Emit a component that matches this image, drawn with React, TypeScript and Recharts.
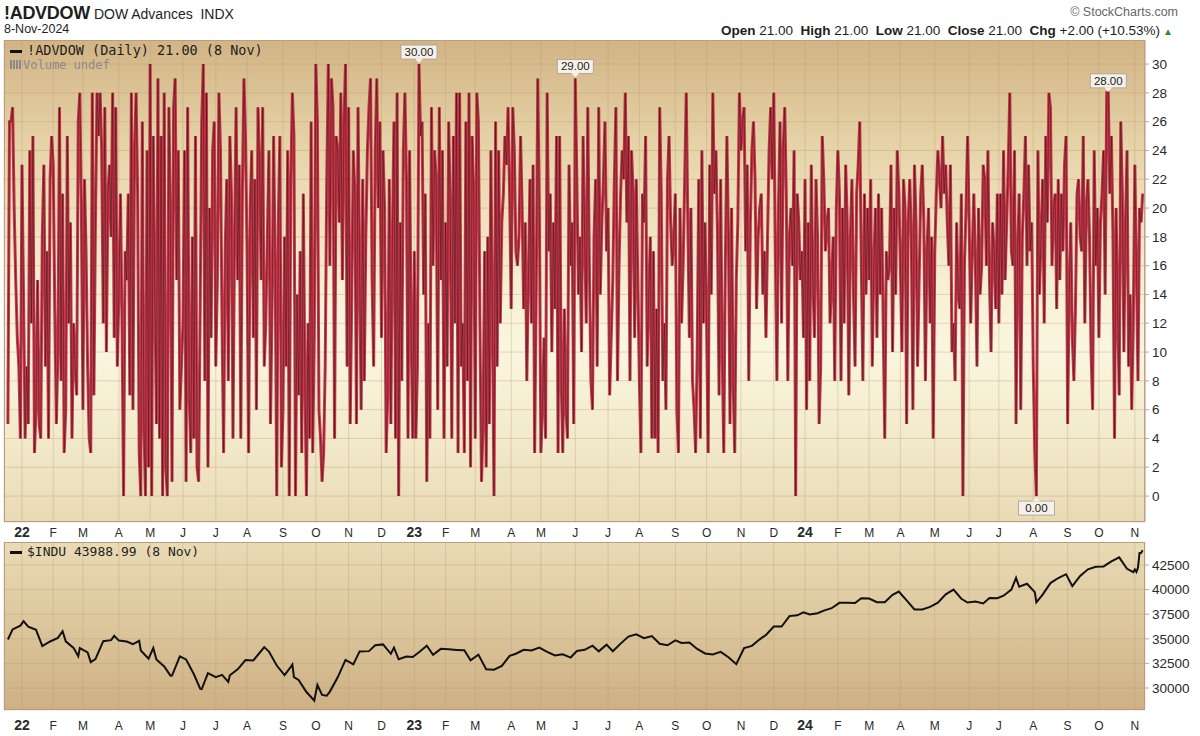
import React from 'react';
import { LineChart, Line, XAxis, YAxis, CartesianGrid, ReferenceDot } from 'recharts';

// NYSE holidays inside the window
const HOLIDAYS = new Set([
  '2021-12-24',
  '2022-01-17', '2022-02-21', '2022-04-15', '2022-05-30', '2022-06-20', '2022-07-04', '2022-09-05', '2022-11-24', '2022-12-26',
  '2023-01-02', '2023-01-16', '2023-02-20', '2023-04-07', '2023-05-29', '2023-06-19', '2023-07-04', '2023-09-04', '2023-11-23', '2023-12-25',
  '2024-01-01', '2024-01-15', '2024-02-19', '2024-03-29', '2024-05-27', '2024-06-19', '2024-07-04', '2024-09-02',
]);

function buildDays(start: string, end: string): string[] {
  const out: string[] = [];
  const d = new Date(start + 'T00:00:00Z');
  const e = new Date(end + 'T00:00:00Z');
  while (d <= e) {
    const wd = d.getUTCDay();
    const s = d.toISOString().slice(0, 10);
    if (wd !== 0 && wd !== 6 && !HOLIDAYS.has(s)) out.push(s);
    d.setUTCDate(d.getUTCDate() + 1);
  }
  return out;
}

const DAYS = buildDays('2021-12-20', '2024-11-08');

// daily number of advancing Dow stocks
const ADV_2021 = [5, 26, 26, 27, 20, 15, 11, 9, 4];
const ADV_2022 = [
  23, 14, 4, 9, 5, 24, 12, 25, 3, 6, 15, 5, 4, 18, 23, 9, 17, 4, 22, 25,
  23, 13, 5, 10, 27, 8, 21, 3, 6, 25, 12, 19, 4, 12, 9, 7, 26, 28, 20,
  6, 22, 17, 9, 4, 3, 28, 7, 19, 28, 25, 28, 24, 12, 27, 10, 21, 23, 18, 28, 11, 27, 9,
  14, 21, 12, 0, 17, 15, 21, 7, 28, 6, 24, 28, 21, 3, 0, 26, 5, 0, 24, 2,
  30, 0, 25, 14, 5, 29, 4, 25, 0, 28, 2, 0, 27, 19, 1, 27, 29, 15, 24, 6, 9,
  12, 24, 1, 27, 7, 3, 18, 4, 25, 2, 1, 13, 26, 30, 8, 28, 2, 20, 11, 24, 26,
  9, 15, 28, 24, 12, 3, 17, 22, 8, 25, 21, 4, 18, 27, 15, 23, 4, 21, 29, 25,
  17, 3, 20, 24, 11, 22, 6, 27, 23, 15, 27, 9, 12, 18, 24, 5, 13, 25, 16, 0, 19, 25, 2,
  6, 18, 9, 24, 0, 22, 28, 25, 0, 14, 7, 17, 3, 21, 8, 0, 12, 4, 26, 3, 11,
  30, 26, 6, 4, 1, 3, 9, 22, 30, 16, 29, 27, 4, 25, 24, 19, 28, 15, 26, 30, 9,
  27, 5, 14, 24, 21, 5, 27, 16, 6, 22, 8, 18, 24, 27, 29, 15, 9, 24, 29, 20, 26,
  11, 24, 20, 3, 7, 22, 5, 18, 26, 4, 28, 0, 19, 8, 24, 28, 22, 4, 24, 11, 4,
];
const ADV_2023 = [
  17, 4, 9, 30, 25, 26, 14, 21, 1, 12, 4, 27, 16, 24, 22, 6, 27, 15, 24, 4,
  19, 9, 26, 20, 4, 25, 12, 28, 3, 28, 9, 12, 3, 26, 8, 28, 2, 25, 21,
  4, 28, 26, 12, 1, 5, 17, 2, 18, 5, 24, 12, 0, 26, 9, 24, 12, 19, 21, 25, 23, 27, 21,
  13, 27, 24, 17, 16, 18, 25, 20, 13, 19, 8, 15, 22, 12, 23, 3, 14, 29, 20,
  3, 6, 11, 4, 28, 17, 21, 10, 19, 13, 25, 3, 25, 8, 3, 13, 6, 4, 23, 16, 19, 5,
  29, 22, 14, 18, 10, 25, 18, 12, 27, 16, 8, 6, 18, 22, 9, 27, 14, 19, 22, 26, 17,
  20, 7, 11, 15, 22, 27, 8, 16, 21, 24, 22, 28, 19, 25, 8, 24, 21, 11, 22, 15,
  8, 3, 21, 19, 25, 9, 14, 18, 4, 17, 4, 13, 3, 27, 21, 8, 12, 6, 22, 25, 19, 16, 18,
  21, 6, 3, 20, 12, 16, 22, 28, 19, 11, 20, 8, 6, 3, 10, 22, 4, 24, 12, 19,
  12, 3, 23, 14, 28, 21, 24, 18, 7, 22, 10, 3, 16, 25, 18, 5, 20, 8, 3, 15, 19, 28,
  24, 26, 27, 17, 23, 8, 19, 24, 26, 22, 13, 18, 20, 21, 14, 17, 11, 18, 24, 27, 22,
  28, 17, 8, 20, 26, 12, 24, 27, 21, 8, 18, 20, 16, 24, 0, 21, 19, 15, 17, 11,
];
const ADV_2024 = [
  22, 6, 19, 8, 23, 15, 11, 22, 18, 5, 9, 25, 22, 17, 19, 20, 12, 15, 18, 8, 20,
  24, 21, 8, 20, 12, 23, 19, 7, 18, 22, 14, 9, 21, 23, 26, 16, 8, 21, 14, 20,
  15, 22, 9, 16, 20, 11, 21, 14, 20, 12, 4, 17, 15, 16, 23, 10, 20, 14, 24, 21,
  16, 10, 22, 20, 5, 19, 22, 18, 6, 23, 19, 9, 15, 21, 23, 19, 8, 17, 20, 12, 18, 4,
  17, 21, 24, 22, 20, 25, 21, 23, 19, 16, 23, 10, 12, 8, 19, 14, 13, 21, 0, 16, 20, 25,
  19, 12, 17, 21, 16, 9, 20, 14, 16, 23, 22, 16, 24, 15, 10, 19, 17, 13, 21,
  12, 21, 14, 24, 15, 19, 23, 28, 17, 16, 24, 5, 17, 21, 6, 18, 21, 25, 16, 23, 17, 19,
  9, 3, 0, 24, 14, 18, 22, 12, 25, 19, 28, 27, 16, 20, 21, 13, 22, 15, 21, 17, 23, 25,
  5, 14, 19, 11, 8, 13, 21, 22, 18, 17, 25, 12, 20, 22, 18, 10, 6, 24, 16, 20,
  11, 19, 21, 24, 14, 28, 28, 21, 25, 18, 4, 20, 13, 7, 26, 21, 10, 19, 24, 9, 14, 6, 12,
  23, 16, 8, 20, 19, 21,
];
const ADVDOW = [...ADV_2021, ...ADV_2022, ...ADV_2023, ...ADV_2024];

// Dow Jones Industrial Average closes
const INDU: [string, number][] = [
  ['2021-12-20', 34932], ['2021-12-23', 35950], ['2021-12-31', 36338],
  ['2022-01-04', 36799], ['2022-01-07', 36231], ['2022-01-14', 35912], ['2022-01-21', 34265], ['2022-01-24', 34365],
  ['2022-01-28', 34725], ['2022-02-04', 35089], ['2022-02-09', 35768], ['2022-02-11', 34738], ['2022-02-18', 34079],
  ['2022-02-24', 33224], ['2022-02-25', 34059], ['2022-03-04', 33614], ['2022-03-08', 32633], ['2022-03-11', 32944],
  ['2022-03-18', 34754], ['2022-03-25', 34861], ['2022-03-29', 35294], ['2022-04-01', 34818], ['2022-04-08', 34721],
  ['2022-04-14', 34451], ['2022-04-21', 34792], ['2022-04-22', 33811], ['2022-04-29', 32977], ['2022-05-04', 34061],
  ['2022-05-06', 32899], ['2022-05-13', 32197], ['2022-05-19', 31253], ['2022-05-20', 31262], ['2022-05-27', 33213],
  ['2022-06-03', 32899], ['2022-06-10', 31393], ['2022-06-16', 29927], ['2022-06-17', 29889], ['2022-06-24', 31501],
  ['2022-07-01', 31097], ['2022-07-08', 31339], ['2022-07-14', 30630], ['2022-07-15', 31289], ['2022-07-22', 31899],
  ['2022-07-29', 32845], ['2022-08-05', 32803], ['2022-08-12', 33761], ['2022-08-16', 34152], ['2022-08-19', 33707],
  ['2022-08-26', 32283], ['2022-09-02', 31318], ['2022-09-09', 32152], ['2022-09-12', 32381], ['2022-09-13', 31105],
  ['2022-09-16', 30822], ['2022-09-23', 29590], ['2022-09-30', 28726], ['2022-10-04', 30317], ['2022-10-07', 29297],
  ['2022-10-12', 29211], ['2022-10-14', 29635], ['2022-10-21', 31083], ['2022-10-28', 32862], ['2022-11-04', 32403],
  ['2022-11-10', 33716], ['2022-11-18', 33746], ['2022-11-25', 34347], ['2022-12-02', 34430], ['2022-12-09', 33477],
  ['2022-12-13', 34109], ['2022-12-16', 32920], ['2022-12-23', 33204], ['2022-12-30', 33147],
  ['2023-01-06', 33631], ['2023-01-13', 34303], ['2023-01-20', 33375], ['2023-01-27', 33978], ['2023-02-03', 33926],
  ['2023-02-10', 33869], ['2023-02-17', 33827], ['2023-02-24', 32817], ['2023-03-03', 33391], ['2023-03-10', 31910],
  ['2023-03-17', 31862], ['2023-03-24', 32238], ['2023-03-31', 33274], ['2023-04-06', 33485], ['2023-04-14', 33886],
  ['2023-04-21', 33809], ['2023-04-28', 34098], ['2023-05-05', 33674], ['2023-05-12', 33300], ['2023-05-19', 33427],
  ['2023-05-26', 33093], ['2023-06-02', 33762], ['2023-06-09', 33877], ['2023-06-16', 34299], ['2023-06-23', 33727],
  ['2023-06-30', 34408], ['2023-07-07', 33734], ['2023-07-14', 34509], ['2023-07-21', 35228], ['2023-07-28', 35459],
  ['2023-08-04', 35066], ['2023-08-11', 35281], ['2023-08-18', 34500], ['2023-08-25', 34346], ['2023-09-01', 34838],
  ['2023-09-08', 34577], ['2023-09-15', 34618], ['2023-09-22', 33964], ['2023-09-29', 33508], ['2023-10-06', 33407],
  ['2023-10-13', 33670], ['2023-10-20', 33127], ['2023-10-27', 32418], ['2023-11-03', 34061], ['2023-11-10', 34283],
  ['2023-11-17', 34947], ['2023-11-24', 35390], ['2023-12-01', 36246], ['2023-12-08', 36248], ['2023-12-15', 37306],
  ['2023-12-22', 37386], ['2023-12-29', 37690],
  ['2024-01-05', 37466], ['2024-01-12', 37593], ['2024-01-19', 37863], ['2024-01-26', 38109], ['2024-02-02', 38654],
  ['2024-02-09', 38671], ['2024-02-16', 38628], ['2024-02-23', 39131], ['2024-03-01', 39087], ['2024-03-08', 38723],
  ['2024-03-15', 38715], ['2024-03-22', 39476], ['2024-03-28', 39807], ['2024-04-05', 38904], ['2024-04-12', 37983],
  ['2024-04-19', 37986], ['2024-04-26', 38240], ['2024-05-03', 38676], ['2024-05-10', 39513], ['2024-05-17', 40004],
  ['2024-05-24', 39070], ['2024-05-31', 38686], ['2024-06-07', 38799], ['2024-06-14', 38589], ['2024-06-21', 39150],
  ['2024-06-28', 39119], ['2024-07-05', 39376], ['2024-07-12', 40001], ['2024-07-17', 41198], ['2024-07-19', 40288],
  ['2024-07-26', 40590], ['2024-08-02', 39737], ['2024-08-05', 38703], ['2024-08-09', 39498], ['2024-08-16', 40660],
  ['2024-08-23', 41175], ['2024-08-30', 41563], ['2024-09-06', 40345], ['2024-09-13', 41394], ['2024-09-20', 42063],
  ['2024-09-27', 42313], ['2024-10-04', 42353], ['2024-10-11', 42864], ['2024-10-18', 43276], ['2024-10-25', 42114],
  ['2024-10-31', 41763], ['2024-11-01', 42052], ['2024-11-04', 41795], ['2024-11-05', 42222], ['2024-11-06', 43730],
  ['2024-11-07', 43729], ['2024-11-08', 43989],
];

const ADV_TICKS = [0, 2, 4, 6, 8, 10, 12, 14, 16, 18, 20, 22, 24, 26, 28, 30];
const INDU_TICKS = [30000, 32500, 35000, 37500, 40000, 42500];
const MONTH_LETTERS = ['J', 'F', 'M', 'A', 'M', 'J', 'J', 'A', 'S', 'O', 'N', 'D'];
const CALLOUTS: [string, boolean][] = [
  ['2023-01-06', true], ['2023-06-01', true], ['2024-10-09', true], ['2024-08-05', false],
];

const dayIndex = (date: string) => {
  let k = 0;
  for (let i = 0; i < DAYS.length; i++) if (DAYS[i] <= date) k = i;
  return k;
};

const advData = ADVDOW.map((v, i) => ({ i, v }));
const induData = INDU.map(([d, c]) => ({ i: dayIndex(d), c }));
const monthTicks = DAYS.map((d, i) => (i > 0 && d.slice(5, 7) !== DAYS[i - 1].slice(5, 7) ? i : -1)).filter((i) => i >= 0);

const X_DOMAIN: [number, number] = [-2.5, 727.5];
const SANS = '"Liberation Sans", Arial, sans-serif';
const MONO = '"DejaVu Sans Mono", monospace';

const MonthTick = ({ x, y, payload, dy }: any) => {
  const d = DAYS[payload.value];
  if (!d) return null;
  const m = Number(d.slice(5, 7));
  const yr = m === 1;
  return (
    <text x={x} y={y + dy} textAnchor="middle" fontFamily={SANS} fontSize={yr ? 14 : 12}
      fontWeight={yr ? 'bold' : 'normal'} fill="#2a2a2a">
      {yr ? d.slice(2, 4) : MONTH_LETTERS[m - 1]}
    </text>
  );
};

const callout = (text: string, above: boolean) => (p: any) => {
  const { cx, cy } = p;
  const w = 36, h = 14;
  const by = above ? cy - 5 - h : cy + 5;
  const tip = above
    ? `M${cx - 4},${cy - 5.5} L${cx},${cy - 1} L${cx + 4},${cy - 5.5}Z`
    : `M${cx - 4},${cy + 5.5} L${cx},${cy + 1} L${cx + 4},${cy + 5.5}Z`;
  return (
    <g>
      <rect x={cx - w / 2} y={by} width={w} height={h} fill="#f5f1ea" stroke="#a39d96" strokeWidth={0.8} />
      <path d={tip} fill="#f5f1ea" />
      <text x={cx} y={by + h - 3} textAnchor="middle" fontFamily={SANS} fontSize={11.5} fill="#222">{text}</text>
    </g>
  );
};

const abs = (l: number, t: number, extra: React.CSSProperties = {}): React.CSSProperties => ({
  position: 'absolute', left: l, top: t, whiteSpace: 'nowrap', ...extra,
});

export default function App() {
  return (
    <div style={{ position: 'absolute', left: 0, top: 0, width: 1200, height: 736, background: '#fff', overflow: 'hidden' }}>
      {/* header */}
      <div style={abs(4, 3, { fontFamily: SANS, color: '#1e1e1e' })}>
        <span style={{ fontSize: 18, fontWeight: 'bold', letterSpacing: -0.3 }}>!ADVDOW</span>
        <span style={{ fontSize: 14, marginLeft: 4 }}>DOW Advances&nbsp; INDX</span>
      </div>
      <div style={abs(4, 22, { fontFamily: SANS, fontSize: 12.5, color: '#1e1e1e' })}>8-Nov-2024</div>
      <div style={abs(0, 5, { width: 1178, textAlign: 'right', fontFamily: SANS, fontSize: 12.5, color: '#666' })}>© StockCharts.com</div>
      <div style={abs(0, 23, { width: 1173, textAlign: 'right', fontFamily: SANS, fontSize: 13.5, color: '#1e1e1e' })}>
        <b>Open</b> 21.00&nbsp; <b>High</b> 21.00&nbsp; <b>Low</b> 21.00&nbsp; <b>Close</b> 21.00&nbsp; <b>Chg</b> +2.00 (+10.53%)
        <span style={{ color: '#2e8b3a', fontSize: 10, marginLeft: 3 }}>▲</span>
      </div>

      {/* panel backgrounds */}
      <div style={abs(4, 40, {
        width: 1141, height: 482, boxSizing: 'border-box', border: '1px solid #b89f80',
        background: 'linear-gradient(to bottom, #d2b485 0%, #e6d3a8 22%, #f6efd2 50%, #faf6de 64%, #f1e8c8 85%, #e8dab4 100%)',
      })} />
      <div style={abs(4, 542, {
        width: 1141, height: 168, boxSizing: 'border-box', border: '1px solid #b89f80',
        background: 'linear-gradient(to bottom, #e9dbb5 0%, #dcc69c 50%, #ceb084 100%)',
      })} />

      {/* top panel */}
      <div style={abs(0, 40)}>
        <LineChart width={1200} height={502} data={advData} margin={{ top: 0, right: 0, bottom: 0, left: 4 }}>
          <CartesianGrid stroke="#b89c74" strokeOpacity={0.35} />
          <XAxis dataKey="i" type="number" domain={X_DOMAIN} ticks={monthTicks} interval={0} allowDataOverflow
            height={20} tickSize={0} tickMargin={0} axisLine={false} tickLine={false}
            tick={<MonthTick dy={15} />} />
          <YAxis orientation="right" type="number" domain={[-1.8, 31.67]} ticks={ADV_TICKS} allowDataOverflow
            width={55} axisLine={{ stroke: '#c4a4a0' }} tickLine={{ stroke: '#c4a4a0' }} tickSize={4} tickMargin={3}
            tick={{ fontFamily: SANS, fontSize: 13.5, fill: '#2a2a2a', textAnchor: 'start' }} />
          <Line dataKey="v" type="linear" stroke="#c4233c" strokeOpacity={0.9} strokeWidth={3} dot={false}
            isAnimationActive={false} />
          <Line dataKey="v" type="linear" stroke="#2a1414" strokeOpacity={0.55} strokeWidth={0.9} dot={false}
            isAnimationActive={false} />
          {CALLOUTS.map(([d, above]) => {
            const i = dayIndex(d);
            const v = ADVDOW[i];
            return (
              <ReferenceDot key={d} x={i} y={v} r={0} ifOverflow="visible"
                shape={callout(v.toFixed(2), above)} />
            );
          })}
        </LineChart>
      </div>

      {/* bottom panel */}
      <div style={abs(0, 542)}>
        <LineChart width={1200} height={194} data={induData} margin={{ top: 0, right: 0, bottom: 0, left: 4 }}>
          <CartesianGrid stroke="#b89c74" strokeOpacity={0.35} />
          <XAxis dataKey="i" type="number" domain={X_DOMAIN} ticks={monthTicks} interval={0} allowDataOverflow
            height={26} tickSize={0} tickMargin={0} axisLine={false} tickLine={false}
            tick={<MonthTick dy={20} />} />
          <YAxis orientation="right" type="number" domain={[27764, 44837]} ticks={INDU_TICKS} allowDataOverflow
            width={55} axisLine={false} tickLine={{ stroke: '#c4a4a0' }} tickSize={4} tickMargin={3}
            tick={{ fontFamily: SANS, fontSize: 13.5, fill: '#2a2a2a', textAnchor: 'start' }} />
          <Line dataKey="c" type="linear" stroke="#111" strokeWidth={2} dot={false} isAnimationActive={false} />
        </LineChart>
      </div>

      {/* in-panel legends */}
      <div style={abs(10, 42, { fontFamily: MONO, fontSize: 13.5, color: '#1e1e1e' })}>
        <span style={{ display: 'inline-block', width: 12, height: 3, background: '#111', verticalAlign: 'middle', marginRight: 5 }} />
        !ADVDOW (Daily) 21.00 (8 Nov)
      </div>
      <div style={abs(10, 58, { fontFamily: MONO, fontSize: 12, color: '#8a8a8a' })}>
        <span style={{ display: 'inline-block', width: 11, height: 9, marginRight: 2,
          background: 'repeating-linear-gradient(to right, #8a8a8a 0 2px, transparent 2px 3px)' }} />
        Volume undef
      </div>
      <div style={abs(10, 544, { fontFamily: MONO, fontSize: 13, color: '#1e1e1e' })}>
        <span style={{ display: 'inline-block', width: 12, height: 3, background: '#111', verticalAlign: 'middle', marginRight: 5 }} />
        $INDU 43988.99 (8 Nov)
      </div>
    </div>
  );
}
